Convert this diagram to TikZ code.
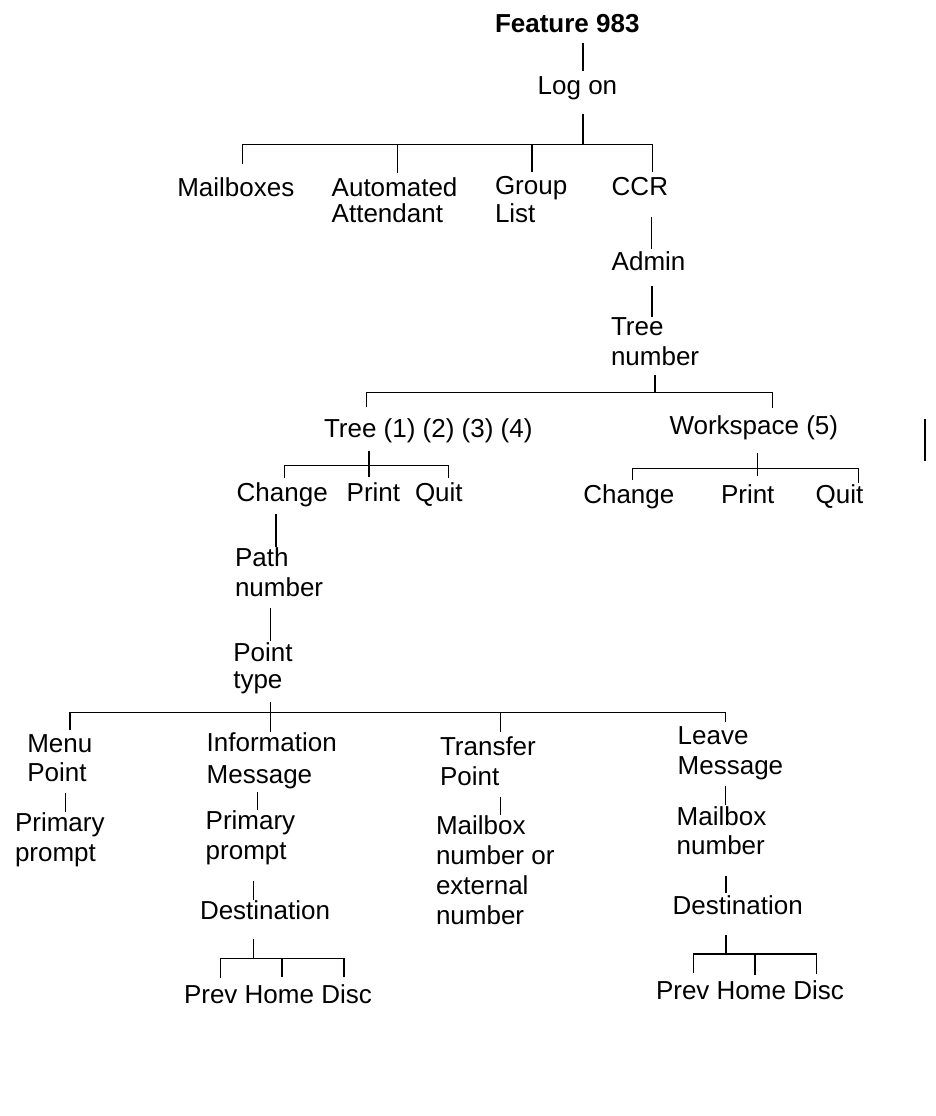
\documentclass[tikz,border=0pt]{standalone}
\usepackage{fontspec}
\setmainfont{Liberation Sans}
\newcommand\ml[1]{\begin{tabular}[t]{@{}l@{}}#1\end{tabular}}
\begin{document}
\begin{tikzpicture}[x=1pt,y=-1pt,
  lbl/.style={anchor=base west, inner sep=0pt, outer sep=0pt, font=\fontsize{26}{30}\selectfont},
  conn/.style={line width=1.1pt, black}]
\useasboundingbox (0,0) rectangle (936,1116);
% ---------- nodes ----------
\node[lbl, font=\fontsize{26}{30}\selectfont\bfseries] (feat) at (495,32.3) {Feature 983};
\node[lbl] (logon) at (537.7,95) {Log on};
\node[lbl] (mail) at (177.3,196.7) {Mailboxes};
\node[lbl] (auto) at (331.7,196) {\ml{Automated\\[-3.3pt]Attendant}};
\node[lbl] (group) at (495,194) {\ml{Group\\[-1.3pt]List}};
\node[lbl] (ccr) at (611.7,195) {CCR};
\node[lbl] (admin) at (611.7,270) {Admin};
\node[lbl] (treenum) at (611,335) {\ml{Tree\\[0.7pt]number}};
\node[lbl] (tree) at (324,437.3) {Tree (1) (2) (3) (4)};
\node[lbl] (ws) at (669.5,434.5) {Workspace (5)};
\node[lbl] (chg1) at (236.7,501.7) {Change};
\node[lbl] (prt1) at (346.7,501.7) {Print};
\node[lbl] (quit1) at (415,501.7) {Quit};
\node[lbl] (chg2) at (583.3,503.3) {Change};
\node[lbl] (prt2) at (721,503.3) {Print};
\node[lbl] (quit2) at (815.7,503.3) {Quit};
\node[lbl] (path) at (235,566.7) {\ml{Path\\number}};
\node[lbl] (point) at (233.3,661.7) {\ml{Point\\[-3.3pt]type}};
\node[lbl] (menu) at (27.3,752.7) {\ml{Menu\\[-1pt]Point}};
\node[lbl] (info) at (206.7,751.7) {\ml{Information\\[1.5pt]Message}};
\node[lbl] (pp1) at (15,831.7) {\ml{Primary\\prompt}};
\node[lbl] (pp2) at (205.7,829) {\ml{Primary\\prompt}};
\node[lbl] (dest1) at (200,919.3) {Destination};
\node[lbl] (prev1) at (184,1003.3) {Prev};
\node[lbl] (home1) at (244.7,1003.3) {Home};
\node[lbl] (disc1) at (321.3,1003.3) {Disc};
\node[lbl] (transfer) at (440,755) {\ml{Transfer\\Point}};
\node[lbl] (mbx1) at (436,834) {\ml{Mailbox\\[0.3pt]number or\\[0.3pt]external\\[0.3pt]number}};
\node[lbl] (leave) at (677.7,744) {\ml{Leave\\Message}};
\node[lbl] (mbx2) at (676.7,825) {\ml{Mailbox\\[-0.7pt]number}};
\node[lbl] (dest2) at (672.7,914.3) {Destination};
\node[lbl] (prev2) at (656,999.3) {Prev};
\node[lbl] (home2) at (716.7,999.3) {Home};
\node[lbl] (disc2) at (793.3,999.3) {Disc};
% ---------- junctions ----------
\coordinate (j1) at (583,144.3);
\coordinate (j2) at (655,392.7);
\coordinate (j3) at (369,465.3);
\coordinate (j4) at (757.7,468.3);
\coordinate (j5) at (270.3,712.7);
\coordinate (j6) at (253.7,958.3);
\coordinate (j7) at (726,954);
\coordinate (s1) at (925,419);
\coordinate (s2) at (925,461);
% ---------- connectors ----------
\draw[conn] ([shift={(88,10.7)}]feat.base west) -- ([shift={(45.3,-24)}]logon.base west);
\draw[conn] ([shift={(45.3,19)}]logon.base west) -- (j1);
\draw[conn] ([shift={(65,-32.7)}]mail.base west) |- (j1);
\draw[conn] ([shift={(65.6,-23)}]auto.base west) |- (j1);
\draw[conn] ([shift={(37,-22)}]group.base west) |- (j1);
\draw[conn] ([shift={(40.8,-23)}]ccr.base west) |- (j1);
\draw[conn] ([shift={(39.8,22)}]ccr.base west) -- ([shift={(39.8,-21)}]admin.base west);
\draw[conn] ([shift={(40.3,16)}]admin.base west) -- ([shift={(41,-18)}]treenum.base west);
\draw[conn] ([shift={(44,40)}]treenum.base west) -- (j2);
\draw[conn] ([shift={(42.7,-30)}]tree.base west) |- (j2);
\draw[conn] ([shift={(102.8,-26.5)}]ws.base west) |- (j2);
\draw[conn] ([shift={(45,13.4)}]tree.base west) -- ([shift={(22.3,-24.4)}]prt1.base west);
\draw[conn] ([shift={(47.6,-23.4)}]chg1.base west) |- (j3);
\draw[conn] ([shift={(33.7,-23.7)}]quit1.base west) |- (j3);
\draw[conn] ([shift={(88.2,18.2)}]ws.base west) -- ([shift={(36.7,-27.3)}]prt2.base west);
\draw[conn] ([shift={(49,-23.3)}]chg2.base west) |- (j4);
\draw[conn] ([shift={(42.6,-20.3)}]quit2.base west) |- (j4);
\draw[conn] ([shift={(39.3,12.3)}]chg1.base west) -- ([shift={(41,-19.7)}]path.base west);
\draw[conn] ([shift={(35.7,41.6)}]path.base west) -- ([shift={(37.4,-21)}]point.base west);
\draw[conn] ([shift={(37,40.6)}]point.base west) -- ([shift={(63.6,-19.4)}]info.base west);
\draw[conn] ([shift={(42.7,-22.7)}]menu.base west) |- (j5);
\draw[conn] ([shift={(60.7,-23.3)}]transfer.base west) |- (j5);
\draw[conn] ([shift={(48,-22.3)}]leave.base west) |- (j5);
\draw[conn] ([shift={(38,40.6)}]menu.base west) -- ([shift={(50.3,-20)}]pp1.base west);
\draw[conn] ([shift={(51,40)}]info.base west) -- ([shift={(52,-19)}]pp2.base west);
\draw[conn] ([shift={(48,52)}]pp2.base west) -- ([shift={(53.7,-19.3)}]dest1.base west);
\draw[conn] ([shift={(53.7,20)}]dest1.base west) -- (j6);
\draw[conn] ([shift={(36.7,-25.6)}]prev1.base west) |- (j6);
\draw[conn] ([shift={(37.3,-26.3)}]home1.base west) |- (j6);
\draw[conn] ([shift={(22.7,-26.3)}]disc1.base west) |- (j6);
\draw[conn] ([shift={(60.7,41.7)}]transfer.base west) -- ([shift={(64.7,-19)}]mbx1.base west);
\draw[conn] ([shift={(48,42)}]leave.base west) -- ([shift={(49,-20)}]mbx2.base west);
\draw[conn] ([shift={(49.3,50.7)}]mbx2.base west) -- ([shift={(53.3,-21)}]dest2.base west);
\draw[conn] ([shift={(53.3,20.7)}]dest2.base west) -- (j7);
\draw[conn] ([shift={(37.3,-26.6)}]prev2.base west) |- (j7);
\draw[conn] ([shift={(38.3,-24.3)}]home2.base west) |- (j7);
\draw[conn] ([shift={(23.4,-25.3)}]disc2.base west) |- (j7);
\draw[conn] (s1) -- (s2);
\end{tikzpicture}
\end{document}
